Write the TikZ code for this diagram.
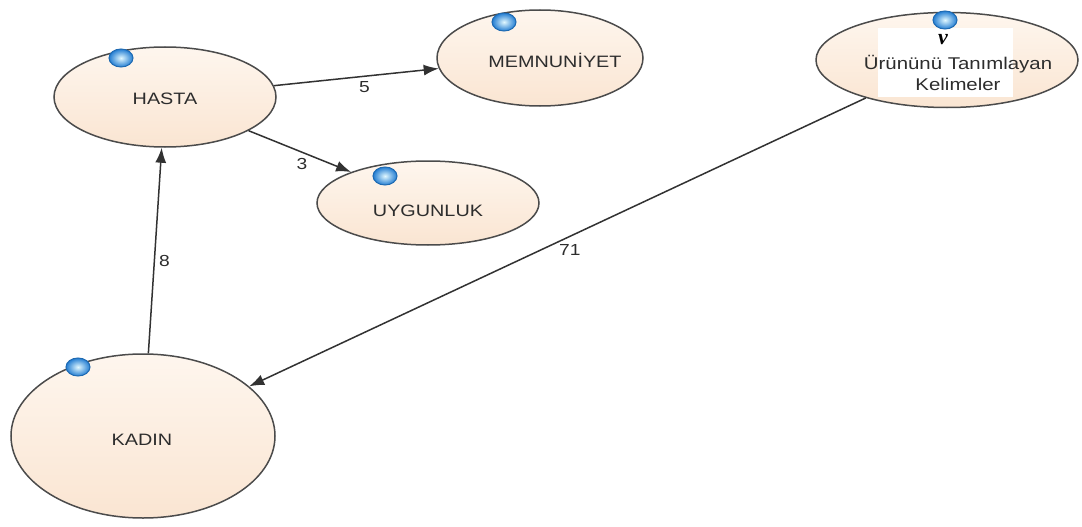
\documentclass[tikz,border=0pt]{standalone}
\usepackage{fontspec}
\setmainfont{Liberation Sans}[FakeStretch=1.2]
\newfontfamily\nufont{Liberation Serif}
\usetikzlibrary{shapes.geometric,arrows.meta}
\definecolor{peachtop}{RGB}{254,246,238}
\definecolor{peachbot}{RGB}{250,229,210}
\definecolor{rim}{RGB}{75,75,75}
\definecolor{edgec}{RGB}{50,50,50}
\definecolor{txt}{RGB}{45,45,45}
\definecolor{ballin}{RGB}{225,248,255}
\definecolor{ballout}{RGB}{35,125,210}
\tikzset{
  construct/.style={ellipse, draw=rim, line width=1.5pt, top color=peachtop, bottom color=peachbot,
    inner sep=0pt},
  ctext/.style={text=txt, font=\fontsize{16.5}{20}\selectfont, inner sep=0pt},
  ballnode/.style={ellipse, draw=ballout!85!black, line width=1pt, inner color=ballin, outer color=ballout,
    minimum width=24pt, minimum height=18pt, inner sep=0pt},
  conn/.style={draw=edgec, line width=1.5pt, -{Latex[length=15pt,width=11pt]}},
  elabel/.style={text=txt, font=\fontsize{16}{18}\selectfont, inner sep=1pt}
}
\begin{document}
\begin{tikzpicture}[x=1pt,y=-1pt]
\useasboundingbox[fill=white] (0,0) rectangle (1082,527);
% constructs
\node[construct, minimum width=222pt, minimum height=100pt] (hasta) at (165,97) {};
\node[construct, minimum width=206pt, minimum height=96pt] (memn) at (540,58) {};
\node[construct, minimum width=262pt, minimum height=95pt] (urun) at (947,60) {};
\node[construct, minimum width=222pt, minimum height=84pt] (uyg) at (428,203) {};
\node[construct, minimum width=264pt, minimum height=164pt] (kadin) at (143,436) {};
% texts
\node[ctext] (thasta) at (165,99) {HASTA};
\node[ctext] (tmemn) at (555,60) {MEMNUN\.{I}YET};
\node[ctext] (tuyg) at (428,211) {UYGUNLUK};
\node[ctext] (tkadin) at (142,440) {KADIN};
% white patch in the right construct
\node[fill=white, minimum width=135pt, minimum height=69pt, inner sep=0pt] (patch) at (945.5,62.5) {};
\node[text=txt, font=\fontsize{17}{21}\selectfont, align=center, inner sep=0pt] (turun) at (958,73) {\"Ur\"un\"un\"u Tan\i mlayan\\Kelimeler};
\node[font=\fontsize{22}{24}\selectfont\nufont\bfseries\itshape, inner sep=0pt, text=black] (nu) at (943,40) {ν};
% balls
\node[ballnode] (bhasta) at (121,58) {};
\node[ballnode] (bmemn) at (504,22) {};
\node[ballnode] (burun) at (945,20) {};
\node[ballnode] (buyg) at (385,176) {};
\node[ballnode] (bkadin) at (78,367) {};
% connectors
\draw[conn] (hasta) -- node[elabel, pos=0.55, below=3pt] (l5) {5} (memn);
\draw[conn] (hasta) -- node[elabel, pos=0.6, below left=1pt] (l3) {3} (uyg);
\draw[conn] (kadin) -- node[elabel, pos=0.45, right=3pt] (l8) {8} (hasta);
\draw[conn] (urun) -- node[elabel, pos=0.48, below=6pt] (l71) {71} (kadin);
\end{tikzpicture}
\end{document}
